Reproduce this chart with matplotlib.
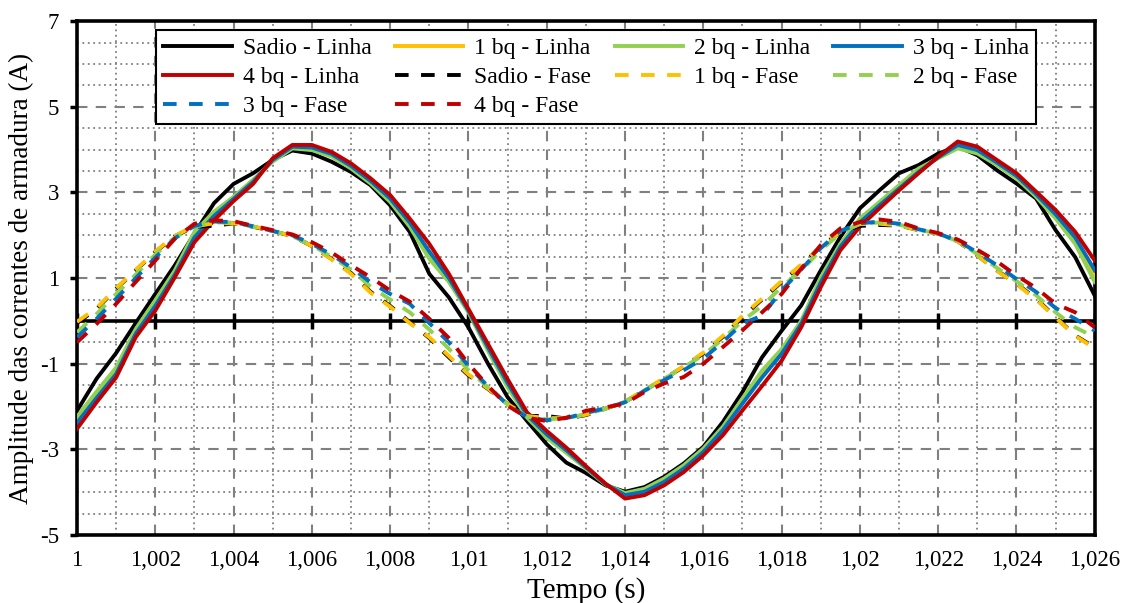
import numpy as np
import matplotlib
matplotlib.use("Agg")
import matplotlib.pyplot as plt
from matplotlib.ticker import MultipleLocator, FuncFormatter

plt.rcParams['font.family'] = ['Liberation Serif', 'DejaVu Serif']
plt.rcParams['axes.unicode_minus'] = False

# tempo amostrado a cada 0,5 ms
tempo = np.linspace(1.0, 1.026, 53)

sadio_linha = [-2.10, -1.35, -0.75, -0.05, 0.63, 1.30, 2.04, 2.75, 3.20, 3.45,
               3.76, 3.98, 3.91, 3.72, 3.48, 3.17, 2.70, 2.08, 1.10, 0.55,
               -0.15, -1.00, -1.78, -2.34, -2.88, -3.31, -3.55, -3.84, -3.99, -3.88,
               -3.64, -3.33, -2.94, -2.36, -1.66, -0.85, -0.23, 0.36, 1.18, 1.96,
               2.63, 3.05, 3.45, 3.64, 3.91, 4.07, 3.87, 3.52, 3.21, 2.86,
               2.12, 1.49, 0.59]
bq1_linha = [-2.30, -1.72, -1.16, -0.25, 0.42, 1.13, 2.02, 2.50, 2.88, 3.28,
             3.74, 4.05, 4.02, 3.87, 3.59, 3.24, 2.82, 2.25, 1.53, 0.95,
             0.22, -0.66, -1.50, -2.23, -2.69, -3.05, -3.43, -3.81, -4.04, -3.95,
             -3.72, -3.41, -3.02, -2.51, -1.87, -1.24, -0.71, -0.03, 0.96, 1.77,
             2.35, 2.74, 3.13, 3.52, 3.81, 4.07, 3.95, 3.67, 3.36, 2.93,
             2.44, 1.87, 1.05]
bq2_linha = [-2.24, -1.65, -1.09, -0.19, 0.48, 1.18, 2.08, 2.55, 2.90, 3.30,
             3.72, 4.03, 3.99, 3.84, 3.56, 3.21, 2.78, 2.20, 1.45, 0.91,
             0.20, -0.70, -1.55, -2.26, -2.73, -3.08, -3.45, -3.82, -4.02, -3.92,
             -3.68, -3.37, -2.98, -2.47, -1.81, -1.16, -0.66, 0.00, 1.02, 1.80,
             2.39, 2.78, 3.17, 3.56, 3.80, 4.03, 3.91, 3.64, 3.33, 2.90,
             2.39, 1.80, 0.91]
bq3_linha = [-2.38, -1.80, -1.24, -0.30, 0.35, 1.08, 1.95, 2.45, 2.85, 3.25,
             3.76, 4.07, 4.05, 3.90, 3.62, 3.27, 2.86, 2.30, 1.62, 1.00,
             0.24, -0.62, -1.45, -2.20, -2.65, -3.02, -3.42, -3.81, -4.07, -3.99,
             -3.76, -3.45, -3.06, -2.55, -1.93, -1.32, -0.77, -0.07, 0.90, 1.73,
             2.30, 2.70, 3.09, 3.48, 3.82, 4.11, 3.99, 3.70, 3.39, 2.96,
             2.49, 1.95, 1.18]
bq4_linha = [-2.52, -1.90, -1.32, -0.38, 0.24, 1.02, 1.84, 2.35, 2.80, 3.20,
             3.80, 4.11, 4.11, 3.95, 3.68, 3.33, 2.94, 2.39, 1.80, 1.10,
             0.28, -0.54, -1.36, -2.14, -2.57, -2.96, -3.39, -3.80, -4.15, -4.07,
             -3.84, -3.53, -3.14, -2.67, -2.09, -1.52, -0.93, -0.15, 0.79, 1.65,
             2.20, 2.63, 3.05, 3.45, 3.84, 4.19, 4.07, 3.76, 3.45, 3.02,
             2.59, 2.08, 1.41]

sadio_fase = [-0.05, 0.28, 0.75, 1.18, 1.61, 1.98, 2.20, 2.22, 2.28, 2.20,
              2.10, 1.98, 1.75, 1.45, 1.12, 0.68, 0.35, -0.03, -0.40, -0.85,
              -1.27, -1.59, -1.94, -2.22, -2.22, -2.28, -2.20, -2.05, -1.89, -1.62,
              -1.35, -1.07, -0.76, -0.37, 0.09, 0.50, 0.91, 1.30, 1.73, 2.08,
              2.22, 2.24, 2.23, 2.12, 2.04, 1.86, 1.53, 1.18, 0.87, 0.52,
              0.09, -0.34, -0.62]
bq1_fase = [-0.02, 0.30, 0.76, 1.19, 1.62, 1.99, 2.21, 2.28, 2.28, 2.21,
            2.10, 1.98, 1.75, 1.44, 1.10, 0.66, 0.33, -0.05, -0.38, -0.82,
            -1.25, -1.58, -1.94, -2.22, -2.27, -2.27, -2.19, -2.05, -1.88, -1.61,
            -1.34, -1.06, -0.74, -0.35, 0.12, 0.52, 0.93, 1.31, 1.74, 2.08,
            2.26, 2.27, 2.23, 2.12, 2.04, 1.86, 1.53, 1.17, 0.86, 0.50,
            0.08, -0.35, -0.64]
bq2_fase = [-0.27, 0.16, 0.63, 1.08, 1.55, 1.95, 2.20, 2.30, 2.30, 2.20,
            2.10, 1.98, 1.77, 1.50, 1.20, 0.80, 0.50, 0.20, -0.20, -0.65,
            -1.15, -1.55, -1.95, -2.24, -2.30, -2.27, -2.18, -2.05, -1.89, -1.62,
            -1.35, -1.08, -0.80, -0.42, 0.00, 0.35, 0.79, 1.18, 1.65, 2.05,
            2.27, 2.30, 2.25, 2.13, 2.04, 1.86, 1.56, 1.24, 0.93, 0.60,
            0.20, -0.15, -0.38]
bq3_fase = [-0.38, 0.05, 0.52, 1.00, 1.48, 1.93, 2.22, 2.32, 2.31, 2.21,
            2.10, 2.00, 1.80, 1.55, 1.25, 0.90, 0.63, 0.40, -0.05, -0.50,
            -1.05, -1.53, -1.96, -2.25, -2.32, -2.27, -2.15, -2.04, -1.90, -1.63,
            -1.38, -1.15, -0.88, -0.49, -0.06, 0.12, 0.71, 1.20, 1.70, 2.10,
            2.28, 2.32, 2.27, 2.14, 2.04, 1.87, 1.60, 1.30, 0.98, 0.68,
            0.30, 0.05, -0.23]
bq4_fase = [-0.50, -0.07, 0.40, 0.91, 1.41, 1.92, 2.27, 2.35, 2.33, 2.22,
            2.12, 2.02, 1.84, 1.60, 1.30, 1.02, 0.71, 0.45, 0.05, -0.40,
            -1.00, -1.52, -1.98, -2.26, -2.34, -2.26, -2.10, -2.02, -1.93, -1.66,
            -1.46, -1.31, -1.00, -0.61, -0.22, 0.20, 0.63, 1.22, 1.77, 2.16,
            2.31, 2.37, 2.31, 2.16, 2.05, 1.90, 1.66, 1.39, 1.06, 0.77,
            0.40, 0.20, -0.15]

cores = ["black", "#FFC000", "#92D050", "#0070C0", "#C00000"]
nomes = ["Sadio", "1 bq", "2 bq", "3 bq", "4 bq"]
linhas = [sadio_linha, bq1_linha, bq2_linha, bq3_linha, bq4_linha]
fases = [sadio_fase, bq1_fase, bq2_fase, bq3_fase, bq4_fase]

fig = plt.figure(figsize=(11.24, 6.03), dpi=100)
ax = fig.add_axes([0.0685, 0.1128, 0.9055, 0.852])

ax.set_xlim(1.0, 1.026)
ax.set_ylim(-5, 7)

# grade: principal tracejada, secundaria pontilhada
ax.xaxis.set_major_locator(MultipleLocator(0.002))
ax.xaxis.set_minor_locator(MultipleLocator(0.001))
ax.set_yticks(np.arange(-5, 8, 2))
ax.yaxis.set_minor_locator(MultipleLocator(0.5))
ax.grid(which="major", color="#808080", linestyle=(0, (5, 4)), linewidth=1.5)
ax.grid(which="minor", color="#808080", linestyle=(0, (1, 2)), linewidth=1.3)
ax.set_axisbelow(True)

# eixo horizontal cruzando em zero, com as marcas de escala
ax.axhline(0, color="black", linewidth=2.6, zorder=2)
xt = ax.get_xticks()
xt = xt[(xt >= 1.0 - 1e-9) & (xt <= 1.026 + 1e-9)]
ax.plot(xt, np.zeros_like(xt), linestyle="none", marker="|", markersize=12,
        markeredgewidth=2.5, color="black", zorder=2)

h_linha, h_fase = [], []
for nome, cor, y in zip(nomes, cores, linhas):
    h, = ax.plot(tempo, y, color=cor, linewidth=2.8, label=nome + " - Linha", zorder=3)
    h_linha.append(h)
for nome, cor, y in zip(nomes, cores, fases):
    h, = ax.plot(tempo, y, color=cor, linewidth=2.8, dashes=(3.5, 3.2),
                 label=nome + " - Fase", zorder=4)
    h_fase.append(h)

def fmt_x(v, pos):
    s = ("%.3f" % v).rstrip("0").rstrip(".")
    return s.replace(".", ",")

ax.xaxis.set_major_formatter(FuncFormatter(fmt_x))
ax.tick_params(axis="x", which="both", length=0, labelsize=16.5, pad=11)
ax.tick_params(axis="y", which="major", length=5, width=2.5, labelsize=16.5, pad=8)
ax.tick_params(axis="y", which="minor", length=0)

for sp in ax.spines.values():
    sp.set_color("black")
    sp.set_linewidth(2.6)

ax.set_xlabel("Tempo (s)", fontsize=21, labelpad=4)
ax.set_ylabel("Amplitude das correntes de armadura (A)", fontsize=19.5, labelpad=4)

# legenda preenchida por linhas (como no Excel)
todos = h_linha + h_fase
ordem = [0, 4, 8, 1, 5, 9, 2, 6, 3, 7]
hs = [todos[i] for i in ordem]
leg = ax.legend(hs, [h.get_label() for h in hs], ncol=4, loc="upper left",
                bbox_to_anchor=(0.078, 0.982),
                fontsize=17, frameon=True, fancybox=False, framealpha=1,
                edgecolor="black", handlelength=2.9, handletextpad=0.45,
                columnspacing=1.0, borderpad=0.3, labelspacing=0.32,
                borderaxespad=0)
leg.get_frame().set_linewidth(1.5)
leg.set_zorder(10)

fig.savefig("out.png", dpi=100)
